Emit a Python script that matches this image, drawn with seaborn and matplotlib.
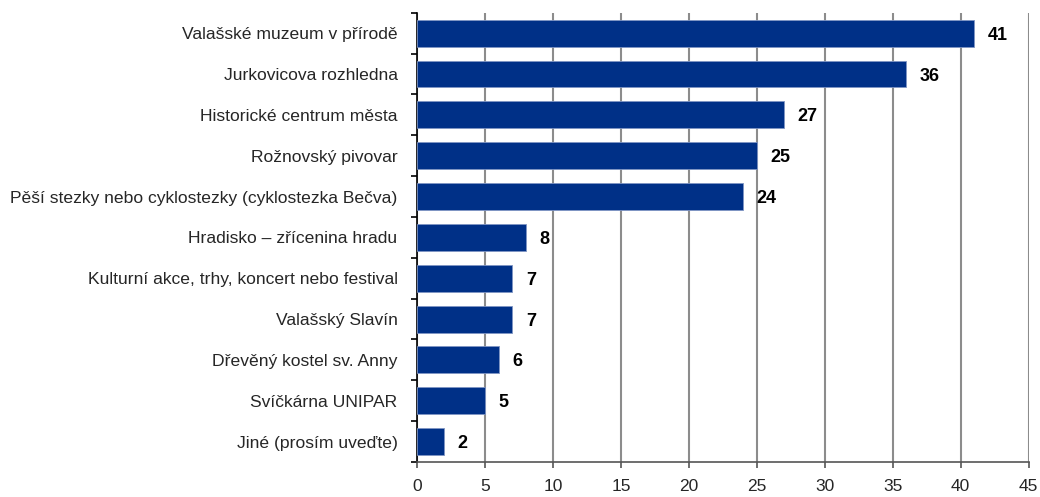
import numpy as np
import pandas as pd
import matplotlib
matplotlib.use("Agg")
import matplotlib.pyplot as plt
import seaborn as sns

# Data
categories = [
    "Valašské muzeum v přírodě",
    "Jurkovicova rozhledna",
    "Historické centrum města",
    "Rožnovský pivovar",
    "Pěší stezky nebo cyklostezky (cyklostezka Bečva)",
    "Hradisko – zřícenina hradu",
    "Kulturní akce, trhy, koncert nebo festival",
    "Valašský Slavín",
    "Dřevěný kostel sv. Anny",
    "Svíčkárna UNIPAR",
    "Jiné (prosím uveďte)",
]
counts = [41, 36, 27, 25, 24, 8, 7, 7, 6, 5, 2]
x_ticks = [0, 5, 10, 15, 20, 25, 30, 35, 40, 45]

df = pd.DataFrame({"place": categories, "count": counts})

sns.set_theme(style="white")
plt.rcParams["font.family"] = ["Liberation Sans", "DejaVu Sans"]

fig = plt.figure(figsize=(10.4, 4.97), dpi=100)
ax = fig.add_axes([0.401, 0.0704, 0.588, 0.904])

sns.barplot(data=df, y="place", x="count", orient="h", color="#003087",
            saturation=1, width=0.66, ax=ax, zorder=3,
            edgecolor="#7f95c4", linewidth=0.6)

ax.set_xlim(0, 45)
ax.set_ylim(len(categories) - 0.5, -0.5)
ax.set_xticks(x_ticks)
ax.set_xticklabels([str(t) for t in x_ticks], fontsize=12.5)
ax.set_xlabel("")
ax.set_ylabel("")

# category labels, ticks at band boundaries
ax.set_yticks(range(len(categories)))
ax.set_yticklabels(categories, fontsize=12.6)
ax.tick_params(axis="y", which="major", left=True, length=0, pad=14)
ax.set_yticks(np.arange(-0.5, len(categories) + 0.5, 1), minor=True)
ax.tick_params(axis="y", which="minor", left=True, length=4.5, width=1.2,
               color="black", direction="out")
ax.tick_params(axis="x", bottom=True, length=4.5, width=1.2, color="#555555",
               direction="out", pad=8)

ax.grid(axis="x", color="#8c8c8c", linewidth=1.5, zorder=0)
ax.grid(axis="y", visible=False)
ax.set_axisbelow(True)

for s in ["top", "right"]:
    ax.spines[s].set_visible(False)
ax.spines["left"].set_color("black")
ax.spines["left"].set_linewidth(1.2)
ax.spines["bottom"].set_color("#555555")
ax.spines["bottom"].set_linewidth(1.2)

for i, v in enumerate(counts):
    ax.text(v + 1.0, i + 0.05, str(v), va="center", ha="left",
            fontsize=13, fontweight="bold", color="black")

plt.savefig("out.png", dpi=100)
